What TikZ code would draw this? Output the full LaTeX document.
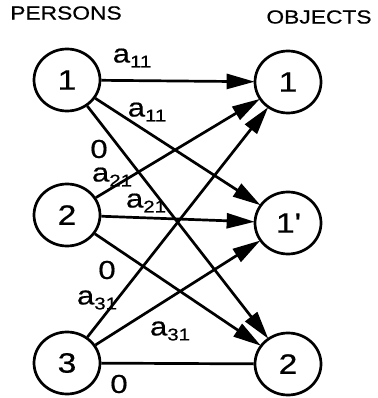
\documentclass[tikz,border=0pt]{standalone}
\usepackage{fontspec}
\setmainfont{Liberation Sans}[FakeStretch=1.2,FakeBold=0.6]
\usetikzlibrary{arrows.meta,shapes.geometric}
\newcommand\wt[2]{#1\raisebox{-5pt}{\fontsize{17}{17}\selectfont #2}}
\begin{document}
\begin{tikzpicture}[x=1pt,y=-1pt,
  vertex/.style={draw,ellipse,line width=2.7pt,minimum width=66pt,minimum height=62pt,
    inner sep=0pt,font=\fontsize{28}{28}\selectfont},
  edge/.style={line width=2.7pt},
  arr/.style={edge,-{Triangle[length=28pt,width=15pt]},shorten >=-1pt},
  wlabel/.style={font=\fontsize{26}{26}\selectfont,inner sep=0pt},
  heading/.style={font=\fontsize{19}{19}\selectfont,inner sep=0pt}]
\useasboundingbox (0,0) rectangle (377,398);
\node[heading] (hp) at (66,13) {PERSONS};
\node[heading] (ho) at (319,17) {OBJECTS};
% persons
\node[vertex] (p1) at (67,80) {1};
\node[vertex] (p2) at (67,215) {2};
\node[vertex] (p3) at (67,363) {3};
% objects
\node[vertex] (o1) at (288,82) {1};
\node[vertex] (o1p) at (288,223) {1\textquotesingle};
\node[vertex] (o2) at (288,364) {2};
% assignment arcs
\draw[arr] (p1) -- (o1);
\draw[arr] (p1) -- (o1p);
\draw[arr] (p1) -- (o2);
\draw[arr] (p2) -- (o1);
\draw[arr] (p2) -- (o1p);
\draw[arr] (p2) -- (o2);
\draw[arr] (p3) -- (o1);
\draw[arr] (p3) -- (o1p);
\draw[edge] (p3) -- (o2);
% weights
\node[wlabel] (w11a) at (132,58) {\wt{a}{11}};
\node[wlabel] (w11b) at (147,112) {\wt{a}{11}};
\node[wlabel] (w12) at (99,149) {0};
\node[wlabel] (w21a) at (112,177) {\wt{a}{21}};
\node[wlabel] (w21b) at (146,203) {\wt{a}{21}};
\node[wlabel] (w22) at (107,270) {0};
\node[wlabel] (w31a) at (97,300) {\wt{a}{31}};
\node[wlabel] (w31b) at (170,331) {\wt{a}{31}};
\node[wlabel] (w32) at (119,384) {0};
\end{tikzpicture}
\end{document}
